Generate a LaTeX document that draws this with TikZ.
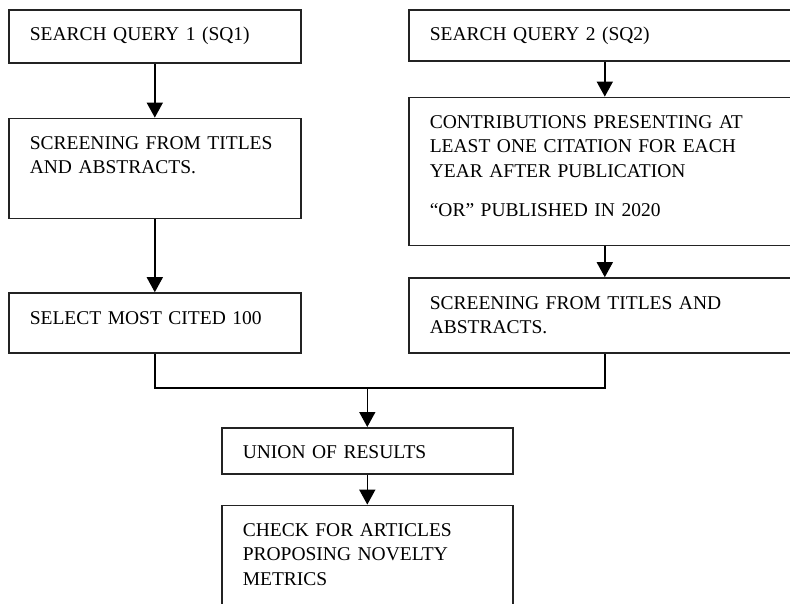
\documentclass[tikz,border=0pt]{standalone}
\usepackage{fontspec}
\setmainfont{Liberation Serif}
\usetikzlibrary{positioning,arrows.meta}
\definecolor{fcline}{RGB}{35,35,35}
\tikzset{
  fc/.style={font=\fontsize{19.5}{24.5}\selectfont, text=black},
  fcbox/.style 2 args={
    fc, draw=fcline, line width=1.6pt, align=left, inner xsep=21pt, inner ysep=0pt,
    text width=#1, text height=31pt, text depth=#2
  },
  fcarr/.style={-{Triangle[length=15pt,width=16pt]}, line width=1.6pt, draw=black},
  fcjoin/.style={line width=1.6pt, draw=black},
}

\begin{document}
\begin{tikzpicture}[fc, x=1pt, y=-1pt]
    \path[use as bounding box, clip] (0,0) rectangle (790,603);

    % first query
    \node[fcbox={250pt}{22pt}, anchor=north west] (sq1) at (8,9) {SEARCH QUERY 1 (SQ1)};
    \node[fcbox={250pt}{69pt}, below right=54pt and 0pt of sq1.south west] (scr1)
      {SCREENING FROM TITLES\\AND ABSTRACTS.};
    \node[fcbox={250pt}{29pt}, below right=73pt and 0pt of scr1.south west] (sel)
      {SELECT MOST CITED 100};

    % second query
    \node[fcbox={350pt}{20pt}, anchor=north west] (sq2) at (408,9) {SEARCH QUERY 2 (SQ2)};
    \node[fcbox={350pt}{117pt}, below right=35pt and 0pt of sq2.south west] (cont)
      {CONTRIBUTIONS PRESENTING AT\\LEAST ONE CITATION FOR EACH\\YEAR AFTER PUBLICATION\\[15pt]“OR” PUBLISHED IN 2020};
    \node[fcbox={350pt}{44pt}, below right=31pt and 0pt of cont.south west] (scr2)
      {SCREENING FROM TITLES AND\\ABSTRACTS.};

    % merge
    \node[fcbox={249pt}{15pt}, anchor=north west] (union) at (221,427) {UNION OF RESULTS};
    \node[fcbox={249pt}{99pt}, below right=30pt and 0pt of union.south west] (check)
      {CHECK FOR ARTICLES\\PROPOSING NOVELTY\\METRICS};

    \coordinate[above=39pt of union.north] (join);

    \draw[fcarr] (sq1) -- (scr1);
    \draw[fcarr] (scr1) -- (sel);
    \draw[fcarr] (sq2) -- (cont);
    \draw[fcarr] (cont) -- (scr2);
    \draw[fcjoin] (sel.south) |- (join) -| (scr2.south);
    \draw[fcarr] (join) -- (union);
    \draw[fcarr] (union) -- (check);
\end{tikzpicture}
\end{document}
